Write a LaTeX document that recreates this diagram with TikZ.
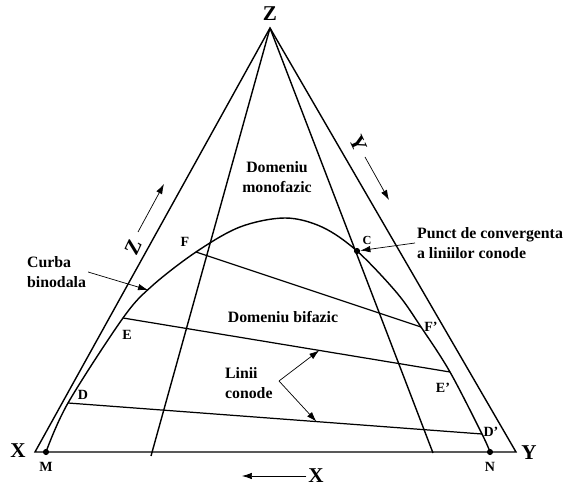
\documentclass[tikz,border=0pt]{standalone}
\usepackage{fontspec}
\setmainfont{Liberation Serif}
\usetikzlibrary{arrows.meta, calc}

\begin{document}
\begin{tikzpicture}[
        x=0.02cm, y=-0.02cm,
        >={Latex[length=2mm, width=1.3mm]},
        side/.style={line width=0.8pt},
        tie/.style={line width=0.7pt},
        lbl/.style={font=\bfseries\fontsize{9}{11.3}\selectfont, align=left, inner sep=1pt},
        ptlbl/.style={font=\bfseries\fontsize{8}{9}\selectfont, inner sep=1pt},
        big/.style={font=\bfseries\fontsize{12}{14}\selectfont, inner sep=1pt},
        dot/.style={circle, fill, inner sep=0pt, minimum size=3.5pt}
    ]
        \useasboundingbox (0,0) rectangle (569,486);

        % vertices of the triangle
        \coordinate (vx) at (35,452);
        \coordinate (vy) at (516,452);
        \coordinate (vz) at (270,28);
        \coordinate (p) at (151,456);
        \coordinate (q) at (433,453);

        % points on the binodal curve
        \coordinate (m) at (46,452);
        \coordinate (d) at (68,403);
        \coordinate (e) at (123,318);
        \coordinate (b1) at (152,286);
        \coordinate (f) at (196,252);
        \coordinate (b2) at (240,227);
        \coordinate (top) at (285,218);
        \coordinate (b3) at (322,227);
        \coordinate (c) at (357,251);
        \coordinate (b4) at (397,293);
        \coordinate (fp) at (421,327);
        \coordinate (ep) at (450,372);
        \coordinate (dp) at (482,434);
        \coordinate (n) at (490,452);

        \draw[side] (vx) -- (vz) -- (vy) -- cycle;
        \draw[side] (vz) -- (p);
        \draw[side] (vz) -- (q);
        \draw[side] plot[smooth, tension=0.55] coordinates {(m) (d) (e) (b1) (f) (b2) (top) (b3) (c) (b4) (fp) (ep) (dp) (n)};

        % tie lines
        \draw[tie] (f) -- (fp);
        \draw[tie] (e) -- (ep);
        \draw[tie] (d) -- (dp);

        \node[dot] (mdot) at (m) {};
        \node[dot] (ndot) at (n) {};
        \node[dot] (cdot) at (c) {};

        % corner and point labels
        \node[big] (zlbl) at (270,14) {Z};
        \node[big] (xlbl) at (18,451) {X};
        \node[big] (ylbl) at (529,453) {Y};
        \node[ptlbl] (mlbl) at (46,467) {M};
        \node[ptlbl] (nlbl) at (490,467) {N};
        \node[ptlbl] (flbl) at (185,242) {F};
        \node[ptlbl] (fplbl) at (431,327) {F'};
        \node[ptlbl] (elbl) at (127,335) {E};
        \node[ptlbl] (eplbl) at (443,388) {E'};
        \node[ptlbl] (dlbl) at (83,395) {D};
        \node[ptlbl] (dplbl) at (491,432) {D'};
        \node[ptlbl, font=\bfseries\fontsize{7}{8}\selectfont] (clbl) at (367,240) {C};

        % axis directions
        \node[big, rotate=65] (zside) at (133,247) {Z};
        \coordinate (za) at (138,232);
        \coordinate (zb) at (164,184);
        \draw[->, thin] (za) -- (zb);
        \node[big, rotate=-65] (yside) at (358,143) {Y};
        \coordinate (ya) at (365,157);
        \coordinate (yb) at (389,200);
        \draw[->, thin] (ya) -- (yb);
        \node[big] (xside) at (316,476) {X};
        \coordinate (xb) at (242,476);
        \draw[->, thin] (xside.west) -- (xb);

        % region texts
        \node[lbl, align=center] (mono) at (277,177) {Domeniu\\monofazic};
        \node[lbl] (bi) at (283,317) {Domeniu bifazic};
        \node[lbl, anchor=west] (curba) at (25,272) {Curba\\binodala};
        \coordinate (cb) at (148,290);
        \draw[->, thin] (curba.east) -- (cb);
        \node[lbl, anchor=west] (punct) at (415,243) {Punct de convergenta\\a liniilor conode};
        \draw[->, thin] (punct.west) -- (cdot);
        \node[lbl, anchor=west] (linii) at (223,383) {Linii\\conode};
        \coordinate (lc) at (279,381);
        \draw[->, thin] (lc) -- ($(e)!0.6!(ep)$);
        \draw[->, thin] (lc) -- ($(d)!0.6!(dp)$);
    \end{tikzpicture}
\end{document}
